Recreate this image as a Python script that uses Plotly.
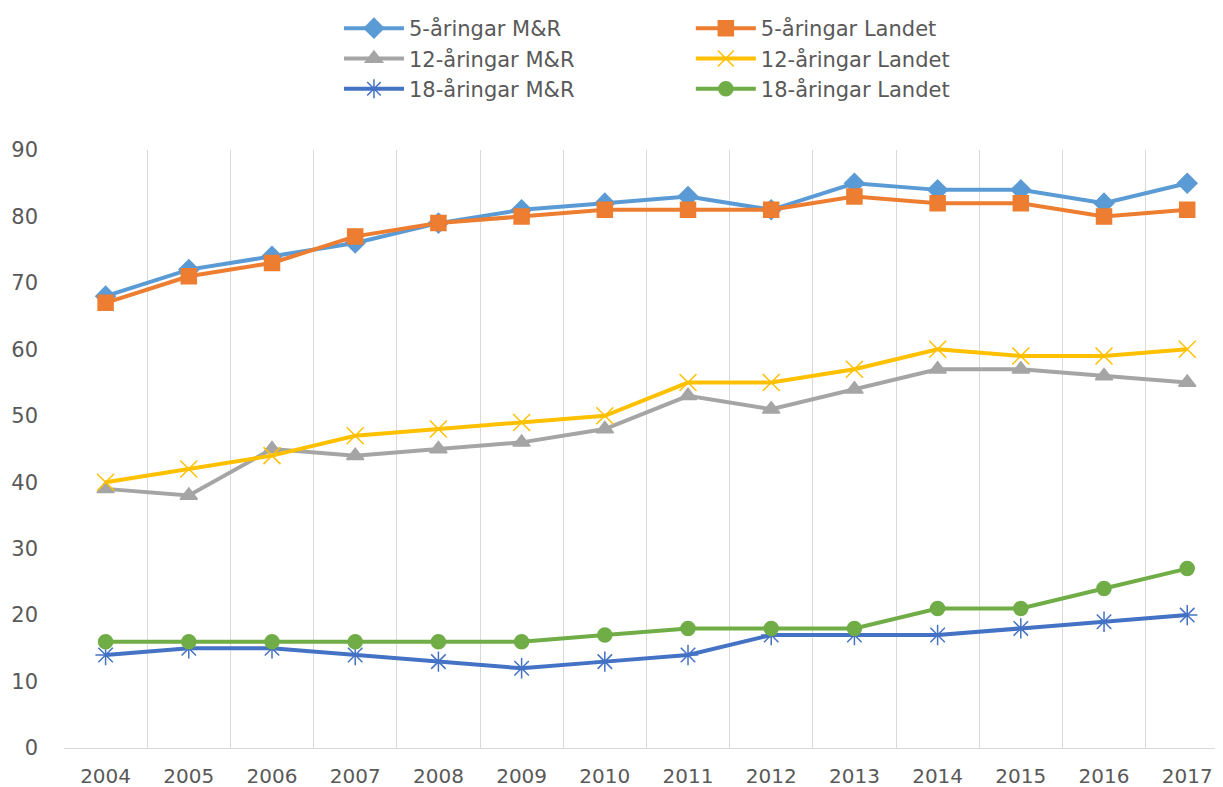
import plotly.graph_objects as go

years = [str(y) for y in range(2004, 2018)]

fem_mr = [68, 72, 74, 76, 79, 81, 82, 83, 81, 85, 84, 84, 82, 85]
fem_land = [67, 71, 73, 77, 79, 80, 81, 81, 81, 83, 82, 82, 80, 81]
tolv_mr = [39, 38, 45, 44, 45, 46, 48, 53, 51, 54, 57, 57, 56, 55]
tolv_land = [40, 42, 44, 47, 48, 49, 50, 55, 55, 57, 60, 59, 59, 60]
arton_mr = [14, 15, 15, 14, 13, 12, 13, 14, 17, 17, 17, 18, 19, 20]
arton_land = [16, 16, 16, 16, 16, 16, 17, 18, 18, 18, 21, 21, 24, 27]

# name, values, colour, marker, size, legend column
series = [
    ("5-åringar M&R", fem_mr, "#5B9BD5", "diamond", 15, "legend"),
    ("5-åringar Landet", fem_land, "#ED7D31", "square", 15, "legend2"),
    ("12-åringar M&R", tolv_mr, "#A5A5A5", "triangle-up", 15, "legend"),
    ("12-åringar Landet", tolv_land, "#FFC000", "x-thin-open", 17, "legend2"),
    ("18-åringar M&R", arton_mr, "#4472C4", "asterisk-open", 17, "legend"),
    ("18-åringar Landet", arton_land, "#70AD47", "circle", 14, "legend2"),
]

fig = go.Figure()
for name, vals, color, sym, size, leg in series:
    fig.add_trace(go.Scatter(
        x=years, y=vals, name=name, mode="lines+markers", legend=leg,
        line=dict(color=color, width=4),
        marker=dict(symbol=sym, size=size, color=color,
                    line=dict(color=color, width=1.5)),
    ))

legend_style = dict(
    orientation="v", xref="container", yref="container",
    y=1.005, xanchor="left", yanchor="top",
    itemwidth=60, font=dict(family="DejaVu Sans", size=21, color="#595959"),
    bgcolor="rgba(0,0,0,0)",
)

# page body has an 8px margin, so the figure is a little smaller
fig.update_layout(
    width=1215, height=779,
    paper_bgcolor="white", plot_bgcolor="white",
    font=dict(family="DejaVu Sans", color="#595959"),
    margin=dict(l=56, r=0, t=142, b=39, autoexpand=False),
    showlegend=True,
    legend=dict(legend_style, x=0.2724),
    legend2=dict(legend_style, x=0.562),
    xaxis=dict(
        type="category", range=[-0.5, 13.43], automargin=False,
        tickson="boundaries", showgrid=True, gridcolor="#D9D9D9", gridwidth=1,
        ticks="", showline=True, linecolor="#D9D9D9", linewidth=1,
        tickfont=dict(size=20, color="#595959"), ticklabelstandoff=10,
    ),
    yaxis=dict(
        range=[0, 90], dtick=10, showgrid=False, zeroline=False,
        showline=False, ticks="", automargin=False,
        tickfont=dict(size=21, color="#595959"), ticklabelstandoff=25,
    ),
)

fig.write_html("out.html")
